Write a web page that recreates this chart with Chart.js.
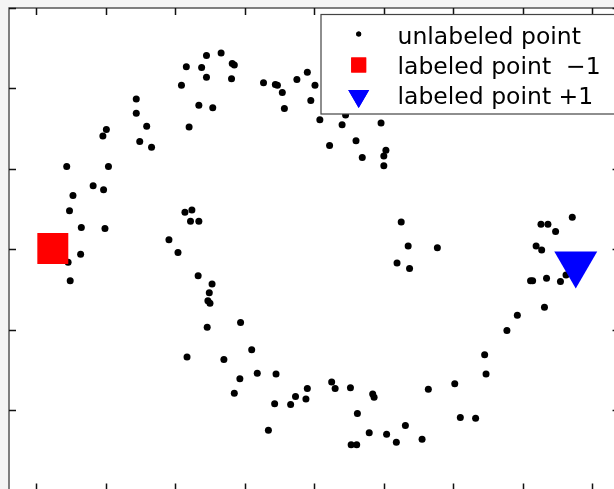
<!DOCTYPE html>
<html>
<head>
<meta charset="utf-8">
<script src="https://cdn.jsdelivr.net/npm/chart.js@4/dist/chart.umd.min.js"></script>
<style>
  html, body { margin: 0; padding: 0; background: #f4f4f4; }
  canvas { display: block; }
</style>
</head>
<body>
<canvas id="scatter" width="614" height="489"></canvas>
<script>
// ── Data ───────────────────────────────────────────────────────────────────
const UNLABELED_X = [
  0.44, 0.53, 0.48, 0.65, 0.82, 0.97, 0.99, 1.04, 0.96, 1.01,
  1.44, 1.44, 1.59, 1.49, 1.66, 2.09, 2.16, 2.20, 2.34, 2.38,
  2.45, 2.45, 2.54, 2.66, 2.82, 2.85, 2.81, 3.27, 3.44, 3.47,
  3.54, 3.57, 3.75, 3.90, 4.01, 3.95, 4.08, 4.40, 4.45, 4.96,
  4.22, 4.60, 4.69, 5.03, 5.00, 5.00, 2.14, 2.24, 2.22, 2.34,
  1.91, 2.04, 5.25, 5.35, 5.77, 7.26, 7.36, 7.47, 7.71, 7.19,
  7.27, 5.19, 5.37, 7.11, 7.14, 7.34, 7.54, 7.62, 7.31, 6.92,
  6.77, 6.45, 6.47, 6.02, 5.64, 6.10, 6.32, 3.90, 3.88, 4.25,
  4.30, 4.52, 4.84, 4.86, 4.62, 5.31, 4.79, 5.04, 5.18, 5.55,
  4.53, 4.61, 0.46, 0.64, 0.49, 2.33, 2.53, 2.49, 2.47, 2.50,
  2.46, 2.94, 2.17, 2.70, 3.10, 3.18, 2.93, 2.85, 3.45, 3.43,
  3.73, 3.66, 3.34,
];
const UNLABELED_Y = [
  1.03, 0.67, 0.48, 0.27, 0.79, 0.74, 0.26, 1.03, 1.41, 1.49,
  1.87, 1.69, 1.53, 1.34, 1.27, 2.04, 2.27, 1.52, 1.79, 2.26,
  2.41, 2.14, 1.76, 2.44, 2.31, 2.29, 2.12, 2.07, 2.05, 2.04,
  1.95, 1.75, 2.11, 2.20, 2.04, 1.85, 1.61, 1.55, 1.67, 1.57,
  1.29, 1.35, 1.14, 1.23, 1.16, 1.04, 0.46, 0.49, 0.35, 0.35,
  0.12, -0.04, 0.34, 0.04, 0.02, 0.31, 0.31, 0.22, 0.40, 0.04,
  -0.01, -0.17, -0.24, -0.39, -0.39, -0.36, -0.40, -0.32, -0.72, -0.82,
  -1.01, -1.31, -1.55, -1.67, -1.74, -2.09, -2.10, -1.73, -1.86, -1.65,
  -1.73, -1.72, -1.80, -1.84, -2.04, -2.19, -2.28, -2.30, -2.40, -2.36,
  -2.43, -2.43, -0.16, -0.06, -0.39, -0.33, -0.43, -0.54, -0.64, -0.67,
  -0.97, -0.91, -1.34, -1.37, -1.25, -1.54, -1.61, -1.79, -1.55, -1.92,
  -1.83, -1.93, -2.25,
];
const NEG_X = [0.24];
const NEG_Y = [0.01];
const POS_X = [7.76];
const POS_Y = [-0.18];

const LEGEND_LABELS = ["unlabeled point", "labeled point  \u22121", "labeled point +1"];

// axis box (frame) and tick values; the visible window is cut at the canvas edge
const X_TICKS = [0, 1, 2, 3, 4, 5, 6, 7, 8];
const Y_TICKS = [-3, -2, -1, 0, 1, 2, 3];
const X_FRAME = [-0.39, 8.39];
const Y_FRAME = [-3, 3];

const toPoints = (xs, ys) => xs.map((x, i) => ({ x, y: ys[i] }));

// ── Frame + inward ticks ───────────────────────────────────────────────────
const framePlugin = {
  id: "frame",
  beforeDraw(chart) {
    const { ctx, chartArea: a } = chart;
    ctx.save();
    ctx.fillStyle = "#f4f4f4";
    ctx.fillRect(0, 0, chart.width, chart.height);
    ctx.fillStyle = "#ffffff";
    ctx.fillRect(a.left, a.top, a.right - a.left, a.bottom - a.top);
    ctx.restore();
  },
  afterDatasetsDraw(chart) {
    const { ctx } = chart;
    const xs = chart.scales.x, ys = chart.scales.y;
    const L = xs.getPixelForValue(X_FRAME[0]), R = xs.getPixelForValue(X_FRAME[1]);
    const T = ys.getPixelForValue(Y_FRAME[1]), B = ys.getPixelForValue(Y_FRAME[0]);
    const len = 7;
    ctx.save();
    ctx.strokeStyle = "#555";
    ctx.lineWidth = 1.5;
    ctx.strokeRect(L, T, R - L, B - T);
    ctx.strokeStyle = "#111";
    ctx.lineWidth = 1.5;
    ctx.beginPath();
    X_TICKS.forEach(v => {
      const px = Math.round(xs.getPixelForValue(v)) + 0.5;
      ctx.moveTo(px, T); ctx.lineTo(px, T + len);
      ctx.moveTo(px, B); ctx.lineTo(px, B - len);
    });
    Y_TICKS.forEach(v => {
      const py = Math.round(ys.getPixelForValue(v)) + 0.5;
      ctx.moveTo(L, py); ctx.lineTo(L + len, py);
      ctx.moveTo(R, py); ctx.lineTo(R - len, py);
    });
    ctx.stroke();
    ctx.restore();
  },
};

// ── Boxed legend in the top-right corner ──────────────────────────────────
const legendPlugin = {
  id: "boxLegend",
  afterDraw(chart) {
    const { ctx } = chart;
    const box = { left: 321, top: 14.5, right: 620, bottom: 114 };
    ctx.save();
    ctx.fillStyle = "#ffffff";
    ctx.fillRect(box.left, box.top, box.right - box.left, box.bottom - box.top);
    ctx.strokeStyle = "#444";
    ctx.lineWidth = 1.2;
    ctx.strokeRect(box.left, box.top, box.right - box.left, box.bottom - box.top);

    const markers = [
      { pointStyle: "circle", radius: 2.5, rotation: 0, color: "#000000", y: 34 },
      { pointStyle: "rect", radius: 10.6, rotation: 0, color: "#ff0000", y: 65 },
      { pointStyle: "triangle", radius: 12.1, rotation: 180, color: "#0000ff", y: 96 },
    ];
    const baselines = [43.5, 73.5, 104];
    markers.forEach((m, i) => {
      ctx.fillStyle = m.color;
      ctx.strokeStyle = m.color;
      ctx.lineWidth = 0;
      Chart.helpers.drawPoint(ctx, m, 358.7, m.y);
      ctx.fill();
      ctx.fillStyle = "#000000";
      ctx.font = "23.5px 'DejaVu Sans'";
      ctx.textAlign = "left";
      ctx.textBaseline = "alphabetic";
      ctx.fillText(LEGEND_LABELS[i], 397.5, baselines[i]);
    });
    ctx.restore();
  },
};

// ── Chart ──────────────────────────────────────────────────────────────────
new Chart(document.getElementById("scatter"), {
  type: "scatter",
  data: {
    datasets: [
      {
        label: LEGEND_LABELS[0],
        data: toPoints(UNLABELED_X, UNLABELED_Y),
        pointStyle: "circle",
        pointRadius: 3.5,
        backgroundColor: "#000000",
        borderWidth: 0,
        order: 2,
      },
      {
        label: LEGEND_LABELS[1],
        data: toPoints(NEG_X, NEG_Y),
        pointStyle: "rect",
        pointRadius: 21.9,
        backgroundColor: "#ff0000",
        borderWidth: 0,
        order: 1,
      },
      {
        label: LEGEND_LABELS[2],
        data: toPoints(POS_X, POS_Y),
        pointStyle: "triangle",
        rotation: 180,
        pointRadius: 24.8,
        backgroundColor: "#0000ff",
        borderWidth: 0,
        order: 1,
      },
    ],
  },
  options: {
    responsive: false,
    animation: false,
    events: [],
    layout: { autoPadding: false, padding: { left: 9, top: 8, right: 0, bottom: 0 } },
    scales: {
      x: { type: "linear", display: false, min: -0.39, max: 8.31 },
      y: { type: "linear", display: false, min: -2.98, max: 3 },
    },
    plugins: {
      legend: { display: false },
      tooltip: { enabled: false },
    },
  },
  plugins: [framePlugin, legendPlugin],
});
</script>
</body>
</html>
